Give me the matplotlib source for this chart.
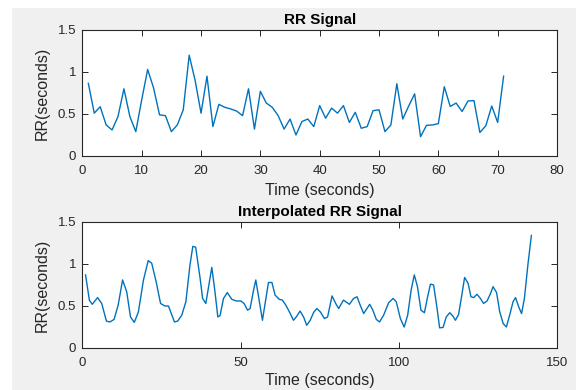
import matplotlib
matplotlib.use("Agg")
import matplotlib.pyplot as plt
from matplotlib.patches import Rectangle

# ---- data: RR signal (beat-by-beat) ----
rr_time = list(range(1, 72))
rr_values = [0.865, 0.51, 0.587, 0.37, 0.31, 0.47, 0.80, 0.47, 0.29, 0.67,
             1.03, 0.81, 0.49, 0.48, 0.29, 0.37, 0.55, 1.20, 0.90, 0.51,
             0.95, 0.35, 0.615, 0.58, 0.56, 0.535, 0.48, 0.80, 0.32, 0.77,
             0.63, 0.58, 0.48, 0.32, 0.44, 0.25, 0.41, 0.44, 0.35, 0.60,
             0.45, 0.57, 0.51, 0.60, 0.40, 0.52, 0.33, 0.35, 0.54, 0.55,
             0.29, 0.37, 0.86, 0.44, 0.595, 0.74, 0.23, 0.365, 0.37, 0.385,
             0.825, 0.59, 0.63, 0.53, 0.655, 0.66, 0.28, 0.36, 0.595, 0.40,
             0.95]

# ---- data: interpolated RR signal ----
interp_time = [1, 2.2, 3.1, 4.8, 6.1, 7.6, 8.7, 10.0, 11.3, 12.7,
               14.0, 15.2, 16.4, 17.7, 19.3, 20.8, 21.9, 23.3, 24.7, 26.1,
               27.2, 29.1, 30.1, 31.4, 32.7, 34.0, 34.9, 35.8, 37.2, 38.0,
               39.0, 39.8, 40.9, 41.9, 42.8, 43.5, 44.6, 45.8, 47.2, 48.6,
               50.1, 51.1, 52.2, 53.0, 54.1, 54.8, 55.9, 56.9, 58.0, 58.8,
               59.9, 60.9, 62.2, 63.2, 64.3, 65.5, 66.7, 67.6, 68.8, 69.9,
               70.9, 72.0, 73.1, 74.1, 75.2, 76.5, 77.5, 78.9, 80.2, 81.0,
               82.5, 84.4, 85.7, 86.8, 87.8, 88.9, 90.8, 91.8, 92.9, 93.9,
               95.2, 96.8, 98.2, 99.2, 100.5, 101.7, 102.8, 103.9, 104.9, 105.9,
               107.0, 108.1, 109.1, 110.0, 111.0, 112.1, 112.9, 114.0, 115.0, 116.1,
               117.1, 117.9, 118.9, 120.0, 120.8, 121.9, 122.8, 123.7, 124.7, 125.8,
               126.8, 127.9, 129.0, 129.8, 130.9, 131.9, 133.0, 134.0, 135.1, 136.1,
               136.9, 137.9, 138.8, 139.7, 140.8, 141.9]
interp_values = [0.87, 0.57, 0.52, 0.60, 0.53, 0.32, 0.31, 0.34, 0.51, 0.81,
                 0.67, 0.37, 0.305, 0.43, 0.81, 1.04, 1.01, 0.79, 0.53, 0.50,
                 0.50, 0.31, 0.32, 0.39, 0.55, 0.99, 1.21, 1.20, 0.83, 0.59,
                 0.53, 0.71, 0.96, 0.67, 0.37, 0.385, 0.59, 0.66, 0.58, 0.56,
                 0.56, 0.53, 0.45, 0.47, 0.69, 0.81, 0.56, 0.33, 0.59, 0.78,
                 0.78, 0.63, 0.58, 0.57, 0.51, 0.425, 0.33, 0.37, 0.44, 0.37,
                 0.27, 0.33, 0.425, 0.47, 0.43, 0.35, 0.37, 0.62, 0.52, 0.47,
                 0.57, 0.52, 0.59, 0.61, 0.51, 0.41, 0.52, 0.45, 0.34, 0.31,
                 0.39, 0.54, 0.59, 0.55, 0.35, 0.25, 0.39, 0.69, 0.87, 0.73,
                 0.45, 0.42, 0.61, 0.76, 0.75, 0.47, 0.24, 0.245, 0.37, 0.42,
                 0.38, 0.33, 0.40, 0.65, 0.84, 0.77, 0.61, 0.60, 0.64, 0.59,
                 0.53, 0.56, 0.65, 0.73, 0.66, 0.43, 0.29, 0.25, 0.40, 0.55,
                 0.60, 0.49, 0.41, 0.59, 0.99, 1.34]

top_xticks = [0, 10, 20, 30, 40, 50, 60, 70, 80]
bottom_xticks = [0, 50, 100, 150]
yticks = [0, 0.5, 1, 1.5]
ytick_labels = ["0", "0.5", "1", "1.5"]

plt.rcParams['font.family'] = ['Liberation Sans', 'DejaVu Sans']

W, H = 576, 390
fig = plt.figure(figsize=(W / 100, H / 100), dpi=100, facecolor='white')
bg = Rectangle((12 / W, 0), 1 - 12 / W, 1 - 8 / H,
               transform=fig.transFigure, facecolor='#f0f0f0',
               edgecolor='none', zorder=-10)
fig.add_artist(bg)

dark = '#262626'
line_color = '#0072BD'


def style(ax):
    ax.set_facecolor('white')
    for s in ax.spines.values():
        s.set_color(dark)
        s.set_linewidth(0.8)
    ax.tick_params(direction='in', length=4, width=0.7, colors=dark,
                   labelsize=9.5, top=True, right=True)
    ax.tick_params(axis='x', pad=6.5)
    ax.tick_params(axis='y', pad=4.5)
    ax.set_yticks(yticks)
    ax.set_yticklabels(ytick_labels)
    ax.set_ylim(0, 1.5)


ax1 = fig.add_axes([82.4 / W, 1 - 156 / H, (557 - 82.4) / W, 126 / H])
ax1.plot(rr_time, rr_values, color=line_color, lw=1.0)
style(ax1)
ax1.set_xlim(0, 80)
ax1.set_xticks(top_xticks)
ax1.set_title('RR Signal', fontsize=11, fontweight='bold', color='black', pad=4)
ax1.set_xlabel('Time (seconds)', fontsize=11.5, color=dark, labelpad=4)
ax1.set_ylabel('RR(seconds)', fontsize=11.5, color=dark, labelpad=6)

ax2 = fig.add_axes([82.4 / W, 1 - 348 / H, (557 - 82.4) / W, 126 / H])
ax2.plot(interp_time, interp_values, color=line_color, lw=1.0)
style(ax2)
ax2.set_xlim(0, 150)
ax2.set_xticks(bottom_xticks)
ax2.set_title('Interpolated RR Signal', fontsize=11, fontweight='bold', color='black', pad=4)
ax2.set_xlabel('Time (seconds)', fontsize=11.5, color=dark, labelpad=3)
ax2.set_ylabel('RR(seconds)', fontsize=11.5, color=dark, labelpad=6)

fig.savefig('out.png', dpi=100, facecolor=fig.get_facecolor())
